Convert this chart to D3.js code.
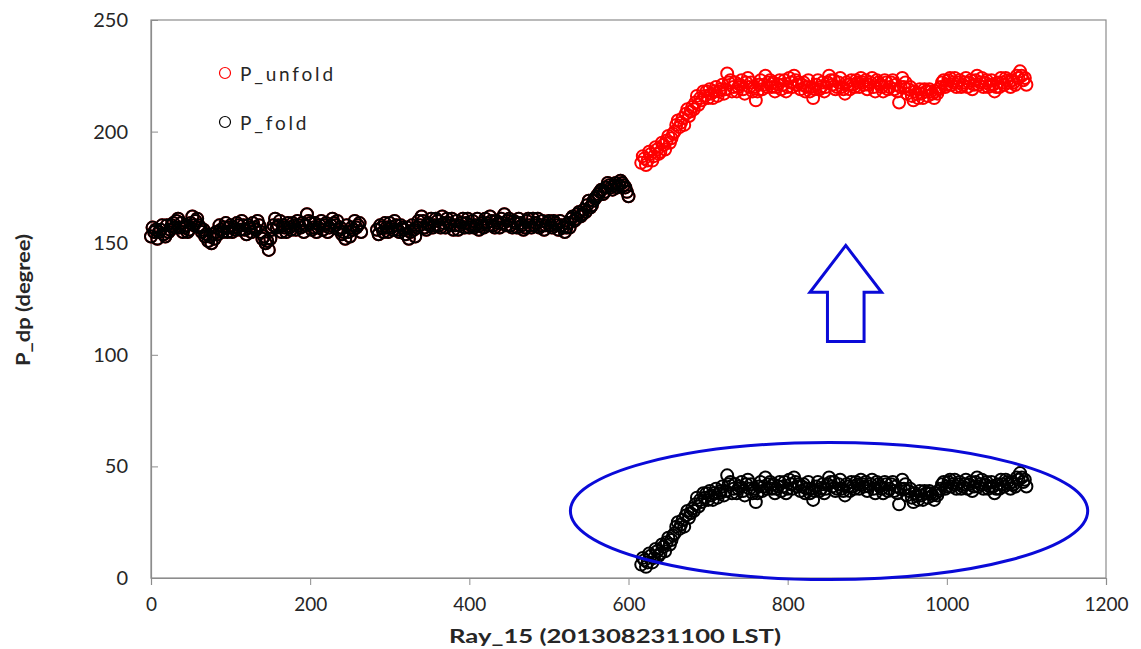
<!DOCTYPE html>
<html>
<head>
<meta charset="utf-8">
<script src="https://cdn.jsdelivr.net/npm/d3@7"></script>
<style>
  body { margin: 0; background: #fff; }
  svg { display: block; }
</style>
</head>
<body>
<svg id="chart" width="1141" height="649"></svg>
<script>
// Axis ticks
const xTickValues = [0, 200, 400, 600, 800, 1000, 1200];
const yTickValues = [0, 50, 100, 150, 200, 250];

// Gates are sampled every 2; each segment is stored as two interleaved runs
// (even run at start, start+4, ...; odd run at start+2, start+6, ...)
const gateStep = 4;
const oddOffset = 2;

// Differential phase (deg), first near-range segment, gates 0..264
const segAStart = 0;
const foldSegA = [
  153, 155, 152, 156, 154, 158, 156, 159, 160, 157,
  155, 158, 156, 162, 160, 158, 155, 153, 151, 150,
  152, 154, 156, 157, 155, 158, 157, 159, 156, 158,
  154, 157, 159, 156, 158, 152, 150, 147, 156, 161,
  158, 155, 157, 159, 156, 158, 160, 157, 155, 163,
  159, 157, 155, 158, 156, 159, 157, 161, 158, 156,
  154, 152, 155, 157, 160, 158, 155
];
const foldSegAOdd = [
  157, 156, 155, 158, 153, 155, 158, 157, 161, 159,
  157, 155, 159, 158, 161, 157, 156, 154, 153, 154,
  155, 158, 155, 159, 157, 155, 156, 158, 160, 156,
  158, 155, 157, 160, 155, 153, 151, 152, 158, 157,
  160, 158, 155, 157, 159, 156, 158, 159, 158, 160,
  156, 159, 157, 160, 158, 155, 158, 159, 160, 157,
  155, 158, 153, 156, 157, 159
];

// Second near-range segment, gates 284..600
const segBStart = 284;
const foldSegB = [
  156, 158, 155, 157, 159, 156, 158, 155, 157, 154,
  152, 158, 153, 160, 162, 157, 159, 161, 158, 160,
  157, 159, 161, 158, 156, 160, 158, 161, 159, 157,
  160, 158, 156, 159, 161, 158, 160, 157, 159, 161,
  163, 160, 158, 160, 157, 159, 156, 160, 158, 161,
  159, 157, 160, 158, 160, 157, 159, 156, 158, 155,
  159, 161, 160, 163, 162, 165, 167, 166, 169, 171,
  173, 172, 175, 176, 174, 177, 176, 177, 175, 171
];
const foldSegBOdd = [
  154, 157, 159, 155, 157, 160, 156, 158, 156, 157,
  155, 156, 157, 158, 160, 156, 158, 157, 161, 158,
  162, 157, 159, 161, 158, 156, 159, 157, 161, 158,
  157, 161, 158, 157, 159, 162, 158, 160, 157, 159,
  158, 161, 157, 159, 161, 158, 157, 161, 157, 158,
  161, 158, 156, 159, 158, 160, 158, 160, 157, 157,
  157, 162, 161, 164, 163, 164, 169, 167, 170, 172,
  174, 173, 177, 175, 176, 175, 178, 176, 173
];

// Far-range segment, gates 616..1100: folded and unfolded values
const segCStart = 616;
const foldSegC = [
  6, 8, 7, 10, 9, 12, 11, 14, 16, 15,
  19, 23, 22, 26, 28, 27, 31, 33, 32, 34,
  36, 35, 37, 38, 36, 39, 37, 46, 43, 40,
  38, 41, 39, 42, 40, 38, 34, 41, 39, 45,
  42, 40, 38, 41, 39, 43, 40, 42, 45, 41,
  39, 42, 40, 38, 35, 41, 39, 42, 40, 45,
  41, 39, 42, 40, 37, 41, 43, 40, 42, 44,
  41, 39, 42, 40, 43, 41, 38, 42, 40, 43,
  41, 33, 44, 42, 39, 36, 38, 35, 37, 39,
  36, 38, 35, 37, 40, 43, 41, 44, 42, 40,
  43, 41, 44, 42, 39, 43, 41, 44, 42, 40,
  43, 38, 42, 44, 41, 43, 40, 42, 45, 47,
  43, 41
];
const foldSegCOdd = [
  9, 5, 11, 7, 13, 10, 15, 12, 18, 17,
  20, 25, 24, 23, 30, 29, 30, 36, 35, 38,
  38, 39, 35, 40, 38, 41, 39, 42, 38, 42,
  40, 43, 37, 44, 42, 40, 38, 43, 41, 40,
  43, 42, 40, 43, 41, 38, 44, 40, 43, 42,
  41, 38, 43, 40, 39, 43, 40, 38, 42, 43,
  43, 40, 44, 39, 42, 39, 41, 43, 40, 42,
  43, 41, 44, 38, 42, 40, 43, 39, 42, 39,
  38, 40, 40, 37, 40, 34, 37, 39, 35, 38,
  39, 37, 38, 39, 42, 40, 43, 41, 44, 42,
  40, 42, 40, 43, 41, 45, 42, 40, 43, 41,
  41, 40, 40, 42, 44, 42, 43, 41, 44, 45,
  44
];
const unfoldSegC = [
  186, 188, 187, 190, 189, 192, 191, 194, 196, 195,
  199, 203, 202, 206, 208, 207, 211, 213, 212, 214,
  216, 215, 217, 218, 216, 219, 217, 226, 223, 220,
  218, 221, 219, 222, 220, 218, 214, 221, 219, 225,
  222, 220, 218, 221, 219, 223, 220, 222, 225, 221,
  219, 222, 220, 218, 215, 221, 219, 222, 220, 225,
  221, 219, 222, 220, 217, 221, 223, 220, 222, 224,
  221, 219, 222, 220, 223, 221, 218, 222, 220, 223,
  221, 213, 224, 222, 219, 216, 218, 215, 217, 219,
  216, 218, 215, 217, 220, 223, 221, 224, 222, 220,
  223, 221, 224, 222, 219, 223, 221, 224, 222, 220,
  223, 218, 222, 224, 221, 223, 220, 222, 225, 227,
  223, 221
];
const unfoldSegCOdd = [
  189, 185, 191, 187, 193, 190, 195, 192, 198, 197,
  200, 205, 204, 203, 210, 209, 210, 216, 215, 218,
  218, 219, 215, 220, 218, 221, 219, 222, 218, 222,
  220, 223, 217, 224, 222, 220, 218, 223, 221, 220,
  223, 222, 220, 223, 221, 218, 224, 220, 223, 222,
  221, 218, 223, 220, 219, 223, 220, 218, 222, 223,
  223, 220, 224, 219, 222, 219, 221, 223, 220, 222,
  223, 221, 224, 218, 222, 220, 223, 219, 222, 219,
  218, 220, 220, 217, 220, 214, 217, 219, 215, 218,
  219, 217, 218, 219, 222, 220, 223, 221, 224, 222,
  220, 222, 220, 223, 221, 225, 222, 220, 223, 221,
  221, 220, 220, 222, 224, 222, 223, 221, 224, 225,
  224
];

// Annotation shapes, in data units
const ellipseSpec = { cx: 852, cy: 30, rx: 325, ry: 30.7 };
const arrowSpec = { tipX: 873, tipY: 149, headY: 128, headHalf: 45, shaftHalf: 23, baseY: 106 };

const seriesNames = ["P_unfold", "P_fold"];
const seriesColors = ["#ff0000", "#000000"];

// ---------------------------------------------------------------
const svg = d3.select("#chart");
const plot = { left: 151, right: 1106, top: 20, bottom: 578 };
const font = "Lato, 'Open Sans', sans-serif";
const textColor = "#262626";
const frameColor = "#8c8c8c";

const x = d3.scaleLinear().domain([0, 1200]).range([plot.left, plot.right]);
const y = d3.scaleLinear().domain([0, 250]).range([plot.bottom, plot.top]);

const run = (start, vals) => vals.map((v, i) => ({ gate: start + i * gateStep, value: v }));
const segment = (start, even, odd) =>
  run(start, even).concat(run(start + oddOffset, odd)).sort((p, q) => p.gate - q.gate);

const nearPoints = segment(segAStart, foldSegA, foldSegAOdd)
  .concat(segment(segBStart, foldSegB, foldSegBOdd));
const foldPoints = nearPoints.concat(segment(segCStart, foldSegC, foldSegCOdd));
const unfoldPoints = nearPoints.concat(segment(segCStart, unfoldSegC, unfoldSegCOdd));

// Plot frame
svg.append("rect")
  .attr("x", plot.left).attr("y", plot.top)
  .attr("width", plot.right - plot.left).attr("height", plot.bottom - plot.top)
  .attr("fill", "none").attr("stroke", frameColor).attr("stroke-width", 1.2);

// X axis
const xAxis = svg.append("g")
  .attr("transform", `translate(0,${plot.bottom})`)
  .call(d3.axisBottom(x).tickValues(xTickValues).tickFormat(d3.format("d"))
    .tickSize(7).tickPadding(13));
xAxis.select(".domain").attr("stroke", frameColor).attr("stroke-width", 1.2);
xAxis.selectAll(".tick line").attr("stroke", frameColor);
xAxis.selectAll(".tick text")
  .attr("font-family", font).attr("font-size", 19).attr("fill", textColor);

// Y axis
const yAxis = svg.append("g")
  .attr("transform", `translate(${plot.left},0)`)
  .call(d3.axisLeft(y).tickValues(yTickValues).tickFormat(d3.format("d"))
    .tickSize(-7).tickPadding(23));
yAxis.select(".domain").attr("stroke", frameColor).attr("stroke-width", 1.2);
yAxis.selectAll(".tick line").attr("stroke", frameColor);
yAxis.selectAll(".tick text")
  .attr("font-family", font).attr("font-size", 20).attr("fill", textColor);

// Axis titles
svg.append("text")
  .attr("x", 615).attr("y", 635)
  .attr("text-anchor", "middle").attr("dominant-baseline", "central")
  .attr("font-family", font).attr("font-size", 19).attr("font-weight", "bold")
  .attr("fill", textColor)
  .attr("textLength", 332).attr("lengthAdjust", "spacingAndGlyphs")
  .text("Ray_15 (201308231100 LST)");

svg.append("text")
  .attr("transform", "translate(22,300) rotate(-90)")
  .attr("text-anchor", "middle").attr("dominant-baseline", "central")
  .attr("font-family", font).attr("font-size", 19).attr("font-weight", "bold")
  .attr("fill", textColor)
  .attr("textLength", 132).attr("lengthAdjust", "spacingAndGlyphs")
  .text("P_dp (degree)");

// Scatter series: unfolded underneath, folded on top
const seriesData = [unfoldPoints, foldPoints];
seriesData.forEach((pts, k) => {
  svg.append("g")
    .selectAll("circle")
    .data(pts)
    .join("circle")
    .attr("cx", d => x(d.gate))
    .attr("cy", d => y(d.value))
    .attr("r", 6)
    .attr("fill", "none")
    .attr("stroke", seriesColors[k])
    .attr("stroke-width", 2);
});

// Legend
const legend = svg.append("g");
seriesNames.forEach((name, k) => {
  const ly = 73 + k * 49;
  legend.append("circle")
    .attr("cx", 225).attr("cy", ly).attr("r", 5.5)
    .attr("fill", "none").attr("stroke", seriesColors[k]).attr("stroke-width", 1.2);
  legend.append("text")
    .attr("x", 240).attr("y", ly)
    .attr("dominant-baseline", "central")
    .attr("font-family", font).attr("font-size", 19)
    .attr("letter-spacing", 2.8)
    .attr("fill", textColor)
    .text(name);
});

// Annotations: ellipse around the folded far-range gates and an upward arrow
const blue = "#0a0ad8";
svg.append("ellipse")
  .attr("cx", x(ellipseSpec.cx)).attr("cy", y(ellipseSpec.cy))
  .attr("rx", x(ellipseSpec.rx) - x(0)).attr("ry", y(0) - y(ellipseSpec.ry))
  .attr("fill", "none").attr("stroke", blue).attr("stroke-width", 3);

const a = arrowSpec;
const arrowPath = [
  [a.tipX, a.tipY],
  [a.tipX + a.headHalf, a.headY],
  [a.tipX + a.shaftHalf, a.headY],
  [a.tipX + a.shaftHalf, a.baseY],
  [a.tipX - a.shaftHalf, a.baseY],
  [a.tipX - a.shaftHalf, a.headY],
  [a.tipX - a.headHalf, a.headY]
];
svg.append("path")
  .attr("d", d3.line().x(p => x(p[0])).y(p => y(p[1]))(arrowPath) + "Z")
  .attr("fill", "none").attr("stroke", blue).attr("stroke-width", 3)
  .attr("stroke-linejoin", "miter");
</script>
</body>
</html>
